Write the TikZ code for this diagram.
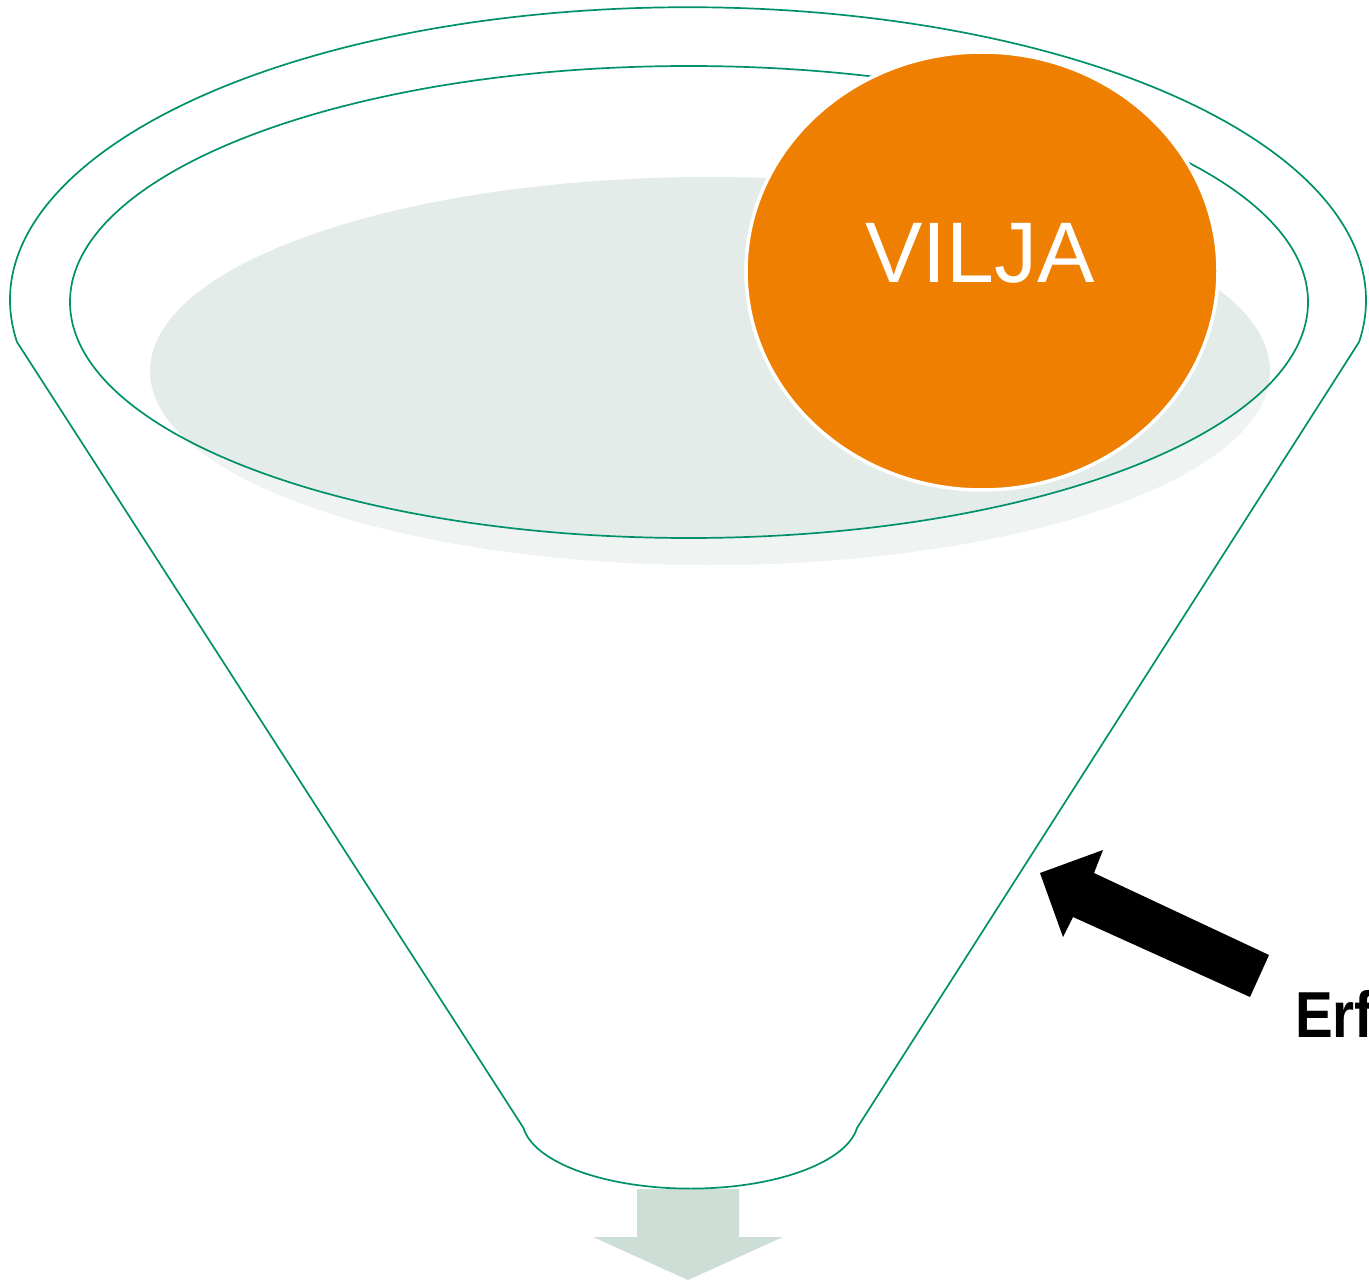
\documentclass[tikz,border=0pt]{standalone}
\usepackage{fontspec}
\setmainfont{Liberation Sans}
\usetikzlibrary{shapes.geometric}
\definecolor{fgreen}{RGB}{0,144,106}
\definecolor{shadowgray}{RGB}{227,236,233}
\definecolor{vorange}{RGB}{239,127,0}
\definecolor{outarrow}{RGB}{204,222,213}
\begin{document}
\begin{tikzpicture}[x=1pt,y=-1pt,
  funnelline/.style={draw=fgreen,line width=1.7pt},
  ball/.style={ellipse,fill=vorange,draw=white,line width=3.5pt,inner sep=0pt},
  balltext/.style={text=white,font=\fontsize{86}{86}\selectfont,inner sep=0pt,anchor=base},
  sidetext/.style={text=black,font=\bfseries\fontsize{65}{65}\selectfont,inner sep=0pt,anchor=base west,xscale=0.87}]
\useasboundingbox (0,0) rectangle (1369,1281);
\clip (0,0) rectangle (1369,1281);
% shadow ellipse
\fill[shadowgray] (710,371) ellipse [x radius=560, y radius=194];
\begin{scope}
  \clip (710,371) ellipse [x radius=560, y radius=194];
  \fill[white, opacity=0.45, even odd rule] (0,0) rectangle (1369,1281)
     (689,302) ellipse [x radius=619, y radius=236];
\end{scope}
% outlet arrow
\fill[outarrow] (637,1189) -- (739,1189) -- (739,1237) -- (783,1237) -- (688,1280)
  -- (593,1237) -- (637,1237) -- cycle;
% funnel outline
\draw[funnelline] (17,342) arc[start angle=171.8, end angle=368.2, x radius=678, y radius=293]
  -- (857,1128) arc[start angle=7, end angle=173, x radius=168, y radius=69] -- cycle;
% inner rim
\draw[funnelline] (689,302) ellipse [x radius=619, y radius=236];
% orange ball
\node[ball, minimum width=472pt, minimum height=438pt] (vilja) at (982,271) {};
\node[balltext] (viljatext) at (980,283) {VILJA};
% black arrow
\fill[black] (1040,873) -- (1103,850) -- (1094,873) -- (1269,955) -- (1250,997)
  -- (1073,917) -- (1063,937) -- cycle;
\node[sidetext] (erf) at (1295,1037) {Erf};
\end{tikzpicture}
\end{document}
